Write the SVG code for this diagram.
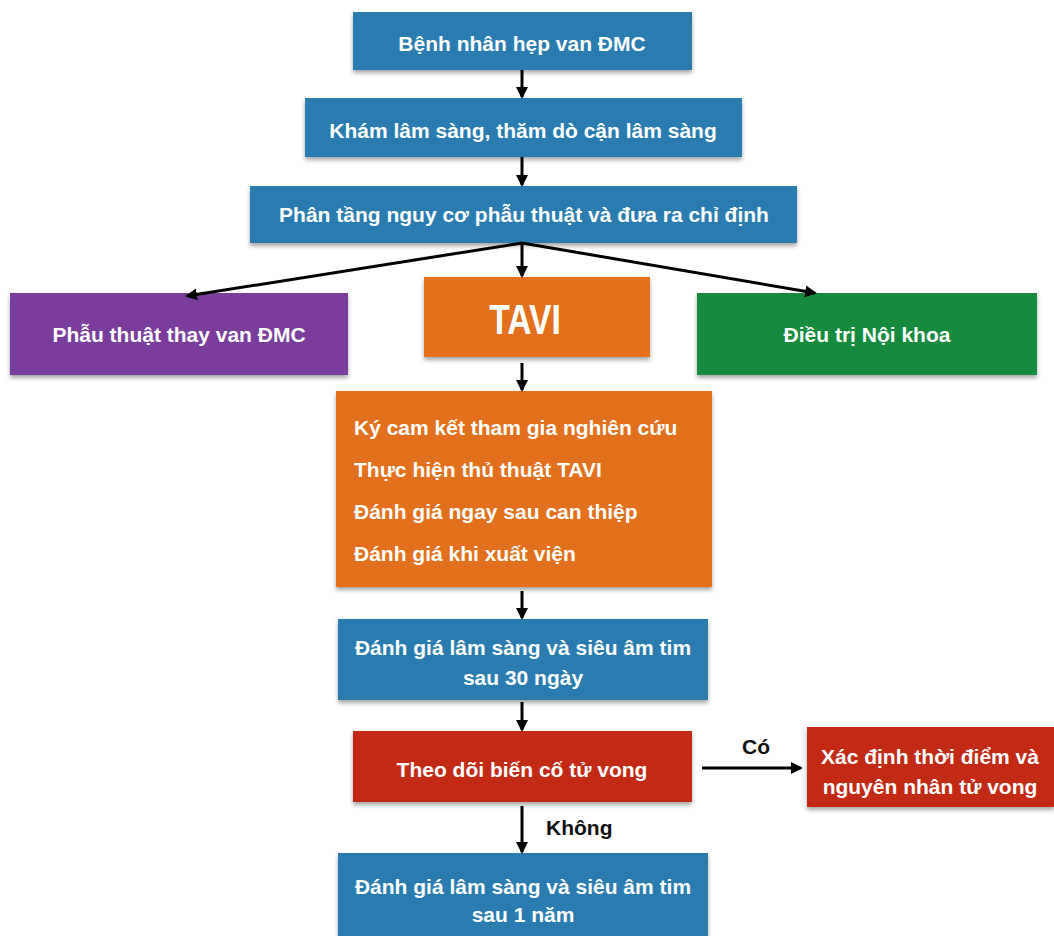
<svg xmlns="http://www.w3.org/2000/svg" width="1054" height="936" viewBox="0 0 1054 936">
<style>
.box{stroke:none;filter:url(#sh)}
.blue{fill:#2b7bb0}.purple{fill:#7a3d9c}.orange{fill:#e2701d}.green{fill:#138a3c}.red{fill:#c22b12}
.t{font-family:"Liberation Sans",Arial,sans-serif;font-weight:bold;font-size:21px;fill:#ffffff;text-anchor:middle}
.tl{font-family:"Liberation Sans",Arial,sans-serif;font-weight:bold;font-size:21px;fill:#ffffff}
.lbl{font-family:"Liberation Sans",Arial,sans-serif;font-weight:bold;font-size:21px;fill:#111111}
.c{stroke:#000;stroke-width:3;fill:none;marker-end:url(#ah)}
</style>
<defs>
<filter id="sh" x="-5%" y="-5%" width="110%" height="130%">
<feDropShadow dx="0" dy="3" stdDeviation="2" flood-color="#000" flood-opacity="0.35"/>
</filter>
<marker id="ah" markerWidth="12" markerHeight="12" refX="10" refY="6" orient="auto" markerUnits="userSpaceOnUse" viewBox="0 0 12 12">
<path d="M0,0 L12,6 L0,12 z" fill="#000"/>
</marker>
</defs>
<rect width="1054" height="936" fill="#ffffff"/>
<g id="n1"><rect class="box blue" x="353" y="12" width="339" height="58"/><text class="t" x="522" y="51">Bệnh nhân hẹp van ĐMC</text></g>
<g id="n2"><rect class="box blue" x="305" y="98" width="437" height="59"/><text class="t" x="523" y="138">Khám lâm sàng, thăm dò cận lâm sàng</text></g>
<g id="n3"><rect class="box blue" x="250" y="186" width="547" height="57"/><text class="t" x="524" y="222">Phân tầng nguy cơ phẫu thuật và đưa ra chỉ định</text></g>
<g id="n4"><rect class="box purple" x="10" y="293" width="338" height="82"/><text class="t" x="179" y="342">Phẫu thuật thay van ĐMC</text></g>
<g id="n5"><rect class="box orange" x="424" y="277" width="226" height="80"/><text class="t" x="0" y="0" style="font-size:42px" transform="translate(525,334) scale(0.8,1)">TAVI</text></g>
<g id="n6"><rect class="box green" x="697" y="293" width="340" height="82"/><text class="t" x="867" y="342">Điều trị Nội khoa</text></g>
<g id="n7"><rect class="box orange" x="336" y="391" width="376" height="196"/>
<text class="tl" x="354" y="435">Ký cam kết tham gia nghiên cứu</text>
<text class="tl" x="354" y="477">Thực hiện thủ thuật TAVI</text>
<text class="tl" x="354" y="519">Đánh giá ngay sau can thiệp</text>
<text class="tl" x="354" y="561">Đánh giá khi xuất viện</text></g>
<g id="n8"><rect class="box blue" x="338" y="619" width="370" height="81"/><text class="t" x="523" y="655">Đánh giá lâm sàng và siêu âm tim</text><text class="t" x="523" y="685">sau 30 ngày</text></g>
<g id="n9"><rect class="box red" x="353" y="731" width="339" height="71"/><text class="t" x="522" y="777">Theo dõi biến cố tử vong</text></g>
<g id="n10"><rect class="box red" x="807" y="727" width="247" height="80"/><text class="t" x="930" y="764">Xác định thời điểm và</text><text class="t" x="930" y="794">nguyên nhân tử vong</text></g>
<g id="n11"><rect class="box blue" x="338" y="853" width="370" height="83"/><text class="t" x="523" y="894">Đánh giá lâm sàng và siêu âm tim</text><text class="t" x="523" y="922">sau 1 năm</text></g>
<g id="connectors">
<line class="c" x1="522" y1="70" x2="522" y2="97"/>
<line class="c" x1="522" y1="157" x2="522" y2="185"/>
<line class="c" x1="522" y1="243" x2="522" y2="276"/>
<line class="c" x1="522" y1="243" x2="187" y2="296"/>
<line class="c" x1="522" y1="243" x2="815" y2="293"/>
<line class="c" x1="522" y1="363" x2="522" y2="390"/>
<line class="c" x1="522" y1="591" x2="522" y2="618"/>
<line class="c" x1="522" y1="702" x2="522" y2="730"/>
<line class="c" x1="702" y1="768" x2="801" y2="768"/>
<line class="c" x1="522" y1="806" x2="522" y2="852"/>
<text class="lbl" x="742" y="754">Có</text>
<text class="lbl" x="546" y="835">Không</text>
</g>
</svg>
